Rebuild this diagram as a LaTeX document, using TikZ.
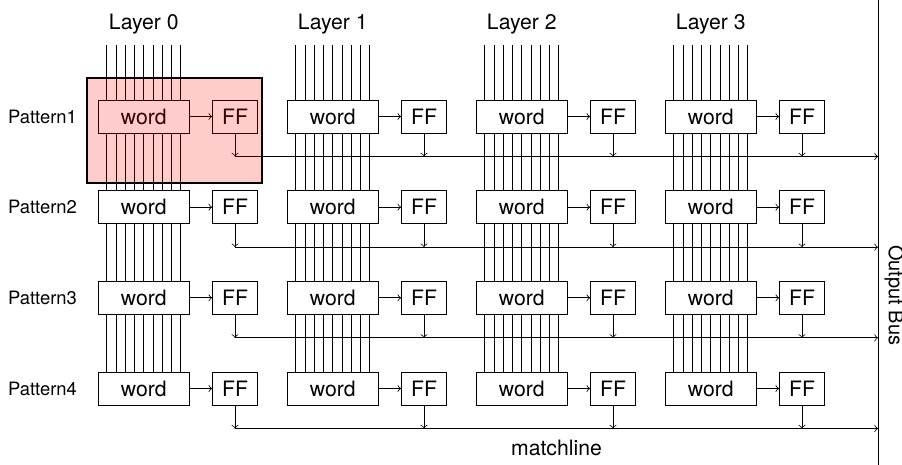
\documentclass[tikz,border=0pt]{standalone}
\usepackage{fontspec}
\setmainfont{TeX Gyre Heros}
\usetikzlibrary{calc,positioning}
\tikzset{
  wordbox/.style={draw,fill=white,minimum width=45.5pt,minimum height=16.5pt,inner sep=0pt},
  ffbox/.style={draw,fill=white,minimum width=22.5pt,minimum height=16.5pt,inner sep=0pt},
  patlabel/.style={font=\fontsize{9.2}{11}\selectfont},
}
\begin{document}
\begin{tikzpicture}[x=0.5pt,y=-0.5pt,font=\fontsize{10.6}{12}\selectfont,>=to]
  \useasboundingbox (0,0) rectangle (902,465);
  % bit lines of every layer
  \foreach \l in {0,...,3}{
    \foreach \b in {-4,...,4}
      \draw ({143.8+189*\l+9.25*\b},45) -- ({143.8+189*\l+9.25*\b},372);
    \node (layer\l) at ({143.8+189*\l},24) {Layer \l};
  }
  % output bus
  \coordinate (ob-top) at (878,0);
  \coordinate (ob-bot) at (878,465);
  \draw (ob-top) -- (ob-bot) node[pos=0.635,rotate=-90,anchor=south,inner sep=3pt,font=\fontsize{10}{12}\selectfont] {Output Bus};
  % words, flip-flops and match lines
  \foreach \p in {1,...,4}{
    \foreach \l in {0,...,3}{
      \node[wordbox] (w-\p-\l) at ({143.8+189*\l},{116.5+90.67*(\p-1)}) {word};
      \node[ffbox] (ff-\p-\l) at ({235+189*\l},{116.5+90.67*(\p-1)}) {FF};
      \draw[->] (w-\p-\l) -- (ff-\p-\l);
    }
    \node[patlabel,left=7pt of w-\p-0] (pat\p) {Pattern\p};
    \coordinate (bs-\p) at ($(ff-\p-0)+(0,40)$);
    \coordinate (be-\p) at (ob-top |- bs-\p);
    \draw[->] (bs-\p) -- (be-\p);
    \foreach \l in {0,...,3}
      \draw[->] (ff-\p-\l.south) -- (ff-\p-\l |- bs-\p);
  }
  \node[below=2pt] (ml) at ($(bs-4)!0.5!(be-4)$) {matchline};
  % highlighted cell
  \draw[line width=1.2pt,fill=red,fill opacity=0.2] (87,78) rectangle (262,183);
\end{tikzpicture}
\end{document}
